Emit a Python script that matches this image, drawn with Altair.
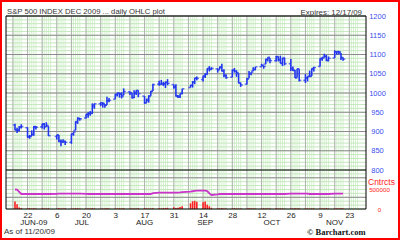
import altair as alt
import pandas as pd

# ---------------- data (Dec 2009 S&P 500 futures) ----------------
jun = [16, 17, 18, 19, 22, 23, 24, 25, 26, 29, 30]
jul = [1, 2, 6, 7, 8, 9, 10, 13, 14, 15, 16, 17, 20, 21, 22, 23, 24, 27, 28, 29, 30, 31]
aug = [3, 4, 5, 6, 7, 10, 11, 12, 13, 14, 17, 18, 19, 20, 21, 24, 25, 26, 27, 28, 31]
sep = [1, 2, 3, 4, 8, 9, 10, 11, 14, 15, 16, 17, 18, 21, 22, 23, 24, 25, 28, 29, 30]
oct_ = [1, 2, 5, 6, 7, 8, 9, 12, 13, 14, 15, 16, 19, 20, 21, 22, 23, 26, 27, 28, 29, 30]
nov = [2, 3, 4, 5, 6, 9, 10, 11, 12, 13, 16, 17, 18, 19, 20]
month_days = [("06", jun), ("07", jul), ("08", aug), ("09", sep), ("10", oct_), ("11", nov)]
dates = [f"2009-{m}-{d:02d}" for m, ds in month_days for d in ds]

opens = [917, 904, 903, 912, 910, 886, 888, 892, 911, 912, 920,
         913, 914, 887, 891, 875, 874, 873, 872, 894, 903, 923, 934, 935, 945, 946, 947, 965, 972, 971, 971, 969, 980,
         984, 995, 999, 998, 994, 1003, 1000, 988, 1000, 1006, 992, 975, 981, 993, 1005, 1023, 1023, 1024, 1024, 1028, 1022,
         1015, 991, 991, 999, 1014, 1020, 1028, 1039, 1035, 1044, 1049, 1063, 1062, 1063, 1062, 1068, 1058, 1045, 1041, 1059, 1057,
         1051, 1026, 1023, 1038, 1050, 1057, 1061, 1068, 1071, 1075, 1086, 1091, 1084, 1095, 1086, 1077, 1092, 1076, 1064, 1058, 1040, 1062,
         1033, 1038, 1044, 1044, 1062, 1069, 1089, 1093, 1095, 1085, 1091, 1106, 1107, 1104, 1092]
highs = [920, 910, 914, 919, 911, 891, 903, 914, 914, 920, 922,
         924, 914, 891, 891, 879, 880, 876, 894, 899, 927, 937, 935, 945, 950, 953, 973, 973, 976, 976, 971, 990, 987,
         998, 1001, 1001, 1002, 1012, 1004, 1000, 1007, 1007, 1007, 992, 985, 994, 1005, 1024, 1032, 1034, 1029, 1030, 1036, 1022,
         1023, 995, 998, 1011, 1021, 1031, 1039, 1043, 1045, 1051, 1064, 1070, 1067, 1063, 1069, 1076, 1062, 1049, 1061, 1065, 1059,
         1051, 1027, 1039, 1057, 1054, 1067, 1068, 1076, 1071, 1089, 1093, 1091, 1096, 1095, 1097, 1091, 1092, 1088, 1069, 1060, 1063, 1062,
         1049, 1043, 1058, 1064, 1068, 1090, 1093, 1102, 1099, 1095, 1111, 1108, 1109, 1104, 1092]
lows = [903, 896, 900, 908, 884, 881, 888, 889, 905, 908, 905,
        913, 888, 879, 872, 862, 871, 865, 868, 889, 903, 920, 928, 934, 936, 941, 946, 959, 966, 962, 962, 969, 976,
        984, 991, 988, 986, 994, 995, 986, 987, 995, 989, 972, 975, 975, 993, 1005, 1019, 1022, 1018, 1013, 1020, 1011,
        991, 987, 987, 997, 1014, 1014, 1023, 1033, 1030, 1039, 1048, 1056, 1060, 1053, 1062, 1056, 1041, 1037, 1041, 1053, 1042,
        1025, 1016, 1022, 1038, 1046, 1057, 1059, 1068, 1063, 1075, 1082, 1077, 1082, 1082, 1077, 1070, 1072, 1057, 1057, 1039, 1040, 1030,
        1026, 1030, 1042, 1044, 1056, 1069, 1084, 1092, 1083, 1082, 1091, 1099, 1100, 1086, 1084]
closes = [904, 903, 910, 913, 885, 887, 893, 913, 911, 919, 912,
          916, 889, 891, 874, 872, 875, 872, 894, 899, 926, 934, 933, 944, 948, 947, 969, 972, 975, 973, 968, 980, 981,
          997, 1000, 997, 991, 1004, 1001, 988, 1000, 1007, 998, 974, 984, 991, 1004, 1022, 1022, 1024, 1024, 1027, 1025, 1017,
          993, 990, 998, 1011, 1020, 1028, 1039, 1038, 1044, 1048, 1064, 1061, 1064, 1060, 1067, 1057, 1046, 1040, 1059, 1056, 1053,
          1026, 1021, 1036, 1051, 1054, 1061, 1068, 1072, 1069, 1088, 1093, 1084, 1094, 1087, 1077, 1089, 1076, 1063, 1060, 1039, 1063, 1033,
          1040, 1042, 1043, 1064, 1066, 1090, 1090, 1095, 1084, 1090, 1107, 1108, 1107, 1092, 1088]
volumes = [190000, 125000, 40000, 25000, 15000, 20000, 12000, 18000, 10000, 22000, 15000,
           12000, 18000, 10000, 20000, 15000, 12000, 18000, 10000, 14000, 20000, 16000, 12000, 10000, 15000, 12000, 18000, 14000, 10000, 12000, 16000, 20000, 15000,
           14000, 12000, 18000, 15000, 20000, 10000, 16000, 12000, 14000, 18000, 22000, 15000, 12000, 16000, 20000, 18000, 14000, 22000, 25000, 30000, 45000,
           25000, 35000, 50000, 70000, 145000, 200000, 210000, 185000, 175000, 195000, 110000, 70000, 30000, 18000, 15000, 20000, 12000, 16000, 14000, 18000, 12000,
           10000, 15000, 12000, 18000, 10000, 14000, 12000, 10000, 16000, 12000, 14000, 10000, 18000, 12000, 15000, 12000, 10000, 16000, 14000, 20000, 12000, 18000,
           14000, 12000, 10000, 16000, 12000, 15000, 12000, 14000, 18000, 12000, 15000, 14000, 12000, 18000, 16000]
open_interest = [500000, 495000, 440000, 385000, 385000, 385000, 385000, 385000, 385000, 388000, 385000,
                 385000, 385000, 390000, 392000, 394000, 394000, 394000, 394000, 394000, 394000, 394000, 392000, 386000, 385000, 385000, 385000, 385000, 385000, 385000, 385000, 385000, 385000,
                 385000, 385000, 385000, 385000, 385000, 385000, 385000, 385000, 385000, 385000, 385000, 385000, 385000, 385000, 405000, 418000, 418000, 418000, 418000, 418000, 418000,
                 418000, 420000, 425000, 432000, 444000, 455000, 465000, 469000, 470000, 469000, 460000, 400000, 360000, 375000, 385000, 385000, 385000, 385000, 385000, 385000, 385000,
                 385000, 385000, 385000, 385000, 385000, 385000, 385000, 385000, 385000, 385000, 385000, 385000, 385000, 385000, 385000, 385000, 385000, 392000, 392000, 392000, 392000, 392000,
                 392000, 392000, 385000, 385000, 385000, 385000, 385000, 385000, 385000, 385000, 392000, 392000, 392000, 392000, 392000]

price_ticks = [800, 850, 900, 950, 1000, 1050, 1100, 1150, 1200]
vol_ticks = [0, 500000]
axis_days = ["2009-06-22", "2009-07-06", "2009-07-20", "2009-08-03", "2009-08-17", "2009-08-31",
             "2009-09-14", "2009-09-28", "2009-10-12", "2009-10-26", "2009-11-09", "2009-11-23"]
month_labels = ["JUN-09", "JUL", "AUG", "SEP", "OCT", "NOV"]
month_label_dates = ["2009-06-25", "2009-07-18", "2009-08-17", "2009-09-15", "2009-10-17", "2009-11-16"]
title_text = "S&P 500 INDEX DEC 2009 ... daily OHLC plot"
expires_text = "Expires: 12/17/09"
asof_text = "As of 11/20/09"
credit_text = "\u00a9 Barchart.com"
contracts_text = "Cntrcts"

# ---------------- helpers ----------------
df = pd.DataFrame({"date": dates, "open": opens, "high": highs, "low": lows, "close": closes,
                   "volume": volumes, "oi": open_interest})

def dt(s, hours=0):
    y, m, d = (int(v) for v in s.split("-"))
    return alt.DateTime(year=y, month=m, date=d, hours=hours, utc=True)

W, H = 360, 193
SANS = "Liberation Sans"
BLUE = "#2236ee"
RED = "#ff2222"

X_SCALE = alt.Scale(type="utc", domain=[dt("2009-06-14", 2), dt("2009-11-28", 14)], nice=False)
PRICE_SCALE = alt.Scale(domain=[800, 1200], range=[154, 0], nice=False, zero=False)
VOL_SCALE = alt.Scale(domain=[0, 1000000], range=[193, 154], nice=False, zero=True)

x_axis = alt.Axis(values=[dt(s) for s in axis_days], format="%-d", formatType="time", labelFont=SANS,
                  labelFontSize=8, labelColor="#222222", labelPadding=2, ticks=False, tickSize=0,
                  domain=False, grid=False, title=None, labelOverlap=False, labelFlush=False,
                  labelBaseline="top")
price_axis = alt.Axis(orient="right", values=price_ticks, format="d", labelFont=SANS, labelFontSize=7.5,
                      labelColor="#3a4ef0", labelAlign="center", labelBaseline="middle", labelPadding=11,
                      ticks=False, tickSize=0, domain=False, grid=False, title=None, labelOverlap=False,
                      labelFlush=False)
vol_axis = alt.Axis(orient="right", values=vol_ticks, format="d", labelFont=SANS, labelFontSize=6.2,
                    labelColor=RED, labelAlign="center", labelBaseline="middle", labelPadding=13,
                    ticks=False, tickSize=0, domain=False, grid=False, title=None, labelOverlap=False,
                    labelFlush=False)

def xenc():
    return alt.X("date:T", scale=X_SCALE, axis=x_axis)

def py(field, axis=None):
    return alt.Y(f"{field}:Q", scale=PRICE_SCALE, axis=axis)

def vy(field, axis=None):
    return alt.Y(f"{field}:Q", scale=VOL_SCALE, axis=axis)

grid_days = pd.DataFrame({"date": pd.bdate_range("2009-06-15", "2009-11-27").strftime("%Y-%m-%d")})
grid_weeks = pd.DataFrame({"date": pd.date_range("2009-06-15", "2009-11-23", freq="7D").strftime("%Y-%m-%d")})
price_fine = pd.DataFrame({"level": list(range(800, 1201, 10))})
price_major = pd.DataFrame({"level": list(range(850, 1201, 50))})
vol_fine = pd.DataFrame({"level": list(range(0, 1000001, 100000))})
vol_major = pd.DataFrame({"level": [300000, 800000]})
one = pd.DataFrame({"k": [0]})

def text_layer(txt, x, y, **kw):
    return alt.Chart(pd.DataFrame({"t": [txt]})).mark_text(baseline="middle", **kw).encode(
        x=alt.value(x), y=alt.value(y), text="t:N")

layers = [
    alt.Chart(grid_days).mark_rule(color="#d6f1d0", strokeWidth=1).encode(x=xenc()),
    alt.Chart(price_fine).mark_rule(color="#c4e8bc", strokeWidth=1).encode(y=py("level")),
    alt.Chart(vol_fine).mark_rule(color="#c4e8bc", strokeWidth=1).encode(y=vy("level")),
    alt.Chart(grid_weeks).mark_rule(color="#b2b2b2", strokeWidth=1).encode(x=xenc()),
    alt.Chart(price_major).mark_rule(color="#8c8c8c", strokeWidth=1).encode(y=py("level")),
    alt.Chart(vol_major).mark_rule(color="#8c8c8c", strokeWidth=1).encode(y=vy("level")),
    alt.Chart(pd.DataFrame({"level": [800]})).mark_rule(color="black", strokeWidth=1.2).encode(y=py("level", price_axis)),
    alt.Chart(df).mark_line(color="#cc33cc", strokeWidth=1.8).encode(x=xenc(), y=vy("oi")),
    alt.Chart(df).mark_bar(color=RED, size=1.6).encode(x=xenc(), y=vy("volume", vol_axis)),
    alt.Chart(df).mark_rule(color=BLUE, strokeWidth=1.6).encode(x=xenc(), y=py("low"), y2="high:Q"),
    alt.Chart(df).mark_tick(color=BLUE, orient="horizontal", size=2.2, thickness=1.5, xOffset=-1.1).encode(
        x=xenc(), y=py("open")),
    alt.Chart(df).mark_tick(color=BLUE, orient="horizontal", size=2.2, thickness=1.5, xOffset=1.1).encode(
        x=xenc(), y=py("close")),
    alt.Chart(one).mark_rect(fill="transparent", stroke="black", strokeWidth=1).encode(
        x=alt.value(0), x2=alt.value(W), y=alt.value(0), y2=alt.value(H)),
    alt.Chart(pd.DataFrame({"date": month_label_dates, "m": month_labels})).mark_text(
        font=SANS, fontSize=8, color="#222222", baseline="middle").encode(x=xenc(), y=alt.value(207), text="m:N"),
    text_layer(title_text, 1, -4, align="left", font=SANS, fontSize=7.7, color="#333333"),
    text_layer(expires_text, 356, -3, align="right", font=SANS, fontSize=7.9, color="#333333"),
    text_layer(asof_text, -2, 216, align="left", font=SANS, fontSize=8, color="#333333"),
    text_layer(credit_text, 301, 216, align="left", font="Liberation Serif", fontSize=8.5,
               fontWeight="bold", color="#111111"),
    text_layer(contracts_text, 362, 166, align="left", font=SANS, fontSize=8.5, color=RED),
    alt.Chart(one).mark_rect(fill="transparent", stroke="#ff0000", strokeWidth=2).encode(
        x=alt.value(-5), x2=alt.value(393), y=alt.value(-15), y2=alt.value(223)),
]

chart = alt.layer(*layers).resolve_scale(y="independent").properties(
    width=W, height=H,
    padding={"left": 6, "top": 16, "right": 34, "bottom": 31},
    autosize=alt.AutoSizeParams(type="none"),
    background="white",
).configure_view(stroke="transparent")

chart.save("out.html", embed_options={"renderer": "svg", "actions": False})
